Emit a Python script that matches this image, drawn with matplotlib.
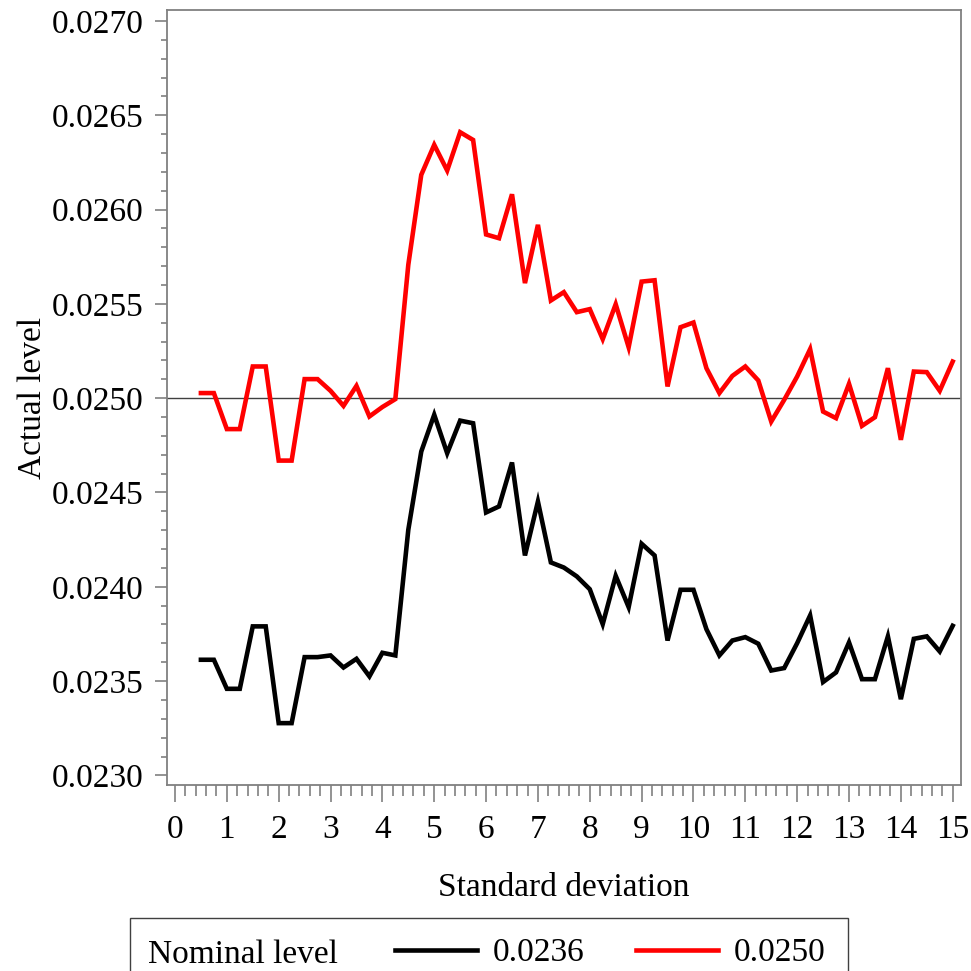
import numpy as np
import matplotlib
matplotlib.use("Agg")
import matplotlib.pyplot as plt
from matplotlib.ticker import MultipleLocator, FormatStrFormatter
from matplotlib.patches import Rectangle

plt.rcParams['font.family'] = ['Liberation Serif', 'DejaVu Serif']

# standard deviation grid (0.5 .. 15 in steps of 0.25)
std_dev = np.arange(0.5, 15.01, 0.25)

# actual level, nominal 0.0236 (black)
level_0236 = [
    0.023613, 0.023613, 0.023459, 0.023459, 0.023790, 0.023790, 0.023277, 0.023277, 0.023627, 0.023627,
    0.023636, 0.023572, 0.023618, 0.023525, 0.023650, 0.023636, 0.024302, 0.024717, 0.024912, 0.024708,
    0.024881, 0.024867, 0.024394, 0.024426, 0.024659, 0.024166, 0.024452, 0.024129, 0.024102, 0.024055,
    0.023987, 0.023802, 0.024058, 0.023892, 0.024228, 0.024166, 0.023715, 0.023984, 0.023984, 0.023775,
    0.023636, 0.023715, 0.023733, 0.023698, 0.023556, 0.023569, 0.023701, 0.023848, 0.023495, 0.023546,
    0.023705, 0.023510, 0.023510, 0.023737, 0.023404, 0.023724, 0.023737, 0.023657, 0.023793,
]

# actual level, nominal 0.0250 (red)
level_0250 = [
    0.025027, 0.025027, 0.024836, 0.024836, 0.025168, 0.025168, 0.024669, 0.024669, 0.025101, 0.025101,
    0.025039, 0.024959, 0.025065, 0.024903, 0.024953, 0.024995, 0.025707, 0.026184, 0.026343, 0.026207,
    0.026410, 0.026369, 0.025868, 0.025848, 0.026081, 0.025610, 0.025919, 0.025518, 0.025562, 0.025456,
    0.025472, 0.025313, 0.025498, 0.025270, 0.025618, 0.025625, 0.025062, 0.025376, 0.025401, 0.025159,
    0.025027, 0.025118, 0.025168, 0.025094, 0.024876, 0.024991, 0.025115, 0.025260, 0.024929, 0.024894,
    0.025076, 0.024853, 0.024899, 0.025159, 0.024779, 0.025141, 0.025138, 0.025039, 0.025194,
]

ref_level = 0.0250
legend_labels = ["0.0236", "0.0250"]

W = 971
fig = plt.figure(figsize=(9.71, 9.71), dpi=100)
ax = fig.add_axes([167 / W, (W - 785) / W, (961 - 167) / W, (785 - 10) / W])

ax.axhline(ref_level, color="#404040", lw=1.0, zorder=1)
l1, = ax.plot(std_dev, level_0236, color="black", lw=3.3, solid_joinstyle="miter", zorder=3)
l2, = ax.plot(std_dev, level_0250, color="red", lw=3.3, solid_joinstyle="miter", zorder=3)

ax.set_xlim(-0.154, 15.16)
ax.set_ylim(0.022949, 0.027058)

ax.xaxis.set_major_locator(MultipleLocator(1))
ax.xaxis.set_minor_locator(MultipleLocator(0.2))
ax.yaxis.set_major_locator(MultipleLocator(0.0005))
ax.yaxis.set_minor_locator(MultipleLocator(0.0001))
ax.yaxis.set_major_formatter(FormatStrFormatter("%.4f"))

gray = "#808080"
for s in ax.spines.values():
    s.set_color(gray)
    s.set_linewidth(1.3)
ax.tick_params(axis="both", which="both", color=gray, width=1.2, labelsize=24, labelcolor="black")
ax.tick_params(axis="y", which="major", length=9, pad=8)
ax.tick_params(axis="y", which="minor", length=4)
ax.tick_params(axis="x", which="major", length=12, pad=9)
ax.tick_params(axis="x", which="minor", length=8)

ax.set_xlabel("Standard deviation", fontsize=24, labelpad=20)
ax.set_ylabel("Actual level", fontsize=24)
ax.yaxis.set_label_coords(-0.15, 0.5)

# legend row along the bottom edge, box cut by the figure edge
fig.add_artist(Rectangle((130 / W, -0.05), (848 - 130) / W, (W - 918) / W + 0.05,
                         transform=fig.transFigure, fill=False, edgecolor="#404040", lw=1.0))
fig.text(148 / W, (W - 955) / W, "Nominal level", fontsize=24, va="center", ha="left")
fig.legend([l1, l2], legend_labels, loc="center left", bbox_to_anchor=(395 / W, (W - 953) / W),
           ncol=2, frameon=False, fontsize=24, handlelength=2.46, handletextpad=0.48,
           columnspacing=1.53, borderpad=0, borderaxespad=0)

fig.savefig("out.png", dpi=100)
